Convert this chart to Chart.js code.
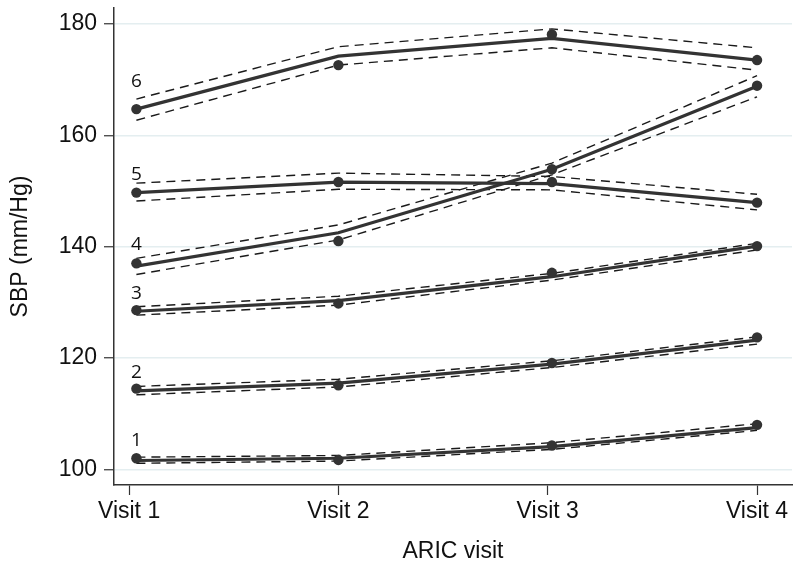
<!DOCTYPE html>
<html>
<head>
<meta charset="utf-8">
<script src="https://cdn.jsdelivr.net/npm/chart.js@4.4.1/dist/chart.umd.min.js"></script>
<style>
  body { margin: 0; background: #fff; }
</style>
</head>
<body>
<canvas id="myChart" width="800" height="568"></canvas>
<script>
'use strict';

var visits = ['Visit 1', 'Visit 2', 'Visit 3', 'Visit 4'];
var visitX = [0.035, 1, 2.02, 3];
var yTicks = [100, 120, 140, 160, 180];
var groups = ['1', '2', '3', '4', '5', '6'];
var labelY = [105.2, 117.3, 131.5, 140.3, 153.0, 169.6];

// observed group means
var observed = [
  [102.0, 101.7, 104.3, 108.0],
  [114.5, 115.1, 119.1, 123.7],
  [128.6, 129.8, 135.3, 140.1],
  [137.0, 141.0, 153.9, 168.9],
  [149.7, 151.6, 151.6, 147.9],
  [164.7, 172.6, 178.1, 173.5]
];
// fitted trajectories
var fitted = [
  [101.6, 102.0, 104.1, 107.5],
  [114.1, 115.5, 118.9, 123.2],
  [128.4, 130.3, 134.6, 140.1],
  [136.5, 142.5, 153.9, 168.8],
  [149.7, 151.6, 151.3, 147.9],
  [164.7, 174.2, 177.4, 173.5]
];
var upperCI = [
  [102.2, 102.5, 104.8, 108.2],
  [114.9, 116.2, 119.5, 123.8],
  [129.2, 131.1, 135.2, 140.6],
  [137.9, 143.9, 155.0, 170.7],
  [151.4, 153.2, 152.6, 149.4],
  [166.5, 175.9, 179.1, 175.7]
];
var lowerCI = [
  [101.1, 101.5, 103.6, 107.0],
  [113.4, 114.8, 118.3, 122.5],
  [127.7, 129.5, 134.0, 139.4],
  [135.0, 141.2, 152.9, 166.9],
  [148.2, 150.3, 150.2, 146.6],
  [162.7, 172.6, 175.7, 171.7]
];

var toPoints = function (vals) {
  return vals.map(function (v, i) { return { x: visitX[i], y: v }; });
};

var datasets = [];
groups.forEach(function (g, k) {
  [upperCI[k], lowerCI[k]].forEach(function (band) {
    datasets.push({
      data: toPoints(band),
      borderColor: '#1a1a1a',
      borderWidth: 1.4,
      borderDash: [9, 6],
      pointRadius: 0,
      showLine: true,
      tension: 0,
      order: 2
    });
  });
  datasets.push({
    data: toPoints(fitted[k]),
    borderColor: '#333',
    borderWidth: 3.2,
    pointRadius: 0,
    showLine: true,
    tension: 0,
    order: 1
  });
  datasets.push({
    data: toPoints(observed[k]),
    showLine: false,
    pointRadius: 5.2,
    pointBackgroundColor: '#333',
    pointBorderColor: '#333',
    pointBorderWidth: 0,
    order: 0
  });
});

// group numbers next to the first visit
var groupLabels = {
  id: 'groupLabels',
  afterDatasetsDraw: function (chart) {
    var ctx = chart.ctx;
    var xs = chart.scales.x, ys = chart.scales.y;
    ctx.save();
    ctx.font = '19px "Open Sans"';
    ctx.fillStyle = '#111';
    ctx.textAlign = 'center';
    ctx.textBaseline = 'middle';
    groups.forEach(function (g, k) {
      ctx.fillText(g, xs.getPixelForValue(visitX[0]), ys.getPixelForValue(labelY[k]));
    });
    ctx.restore();
  }
};

var tickFont = { family: '"Liberation Sans", Arial, sans-serif', size: 23 };

var ctx = document.getElementById('myChart');
var chart = new Chart(ctx, {
  type: 'scatter',
  data: { datasets: datasets },
  options: {
    responsive: false,
    animation: false,
    layout: { padding: { top: 8, right: 8, left: 0, bottom: 0 } },
    plugins: { legend: { display: false }, tooltip: { enabled: false } },
    scales: {
      x: {
        type: 'linear',
        min: -0.072,
        max: 3.167,
        afterFit: function (s) {
          s.height = 83;
          s.paddingLeft = 0;
          s.paddingRight = 0;
        },
        afterBuildTicks: function (s) {
          s.ticks = visits.map(function (v, i) { return { value: i }; });
        },
        ticks: {
          color: '#111',
          font: tickFont,
          padding: 3,
          maxRotation: 0,
          callback: function (v) { return visits[v]; }
        },
        grid: { drawOnChartArea: false, tickLength: 10, tickColor: '#333', tickWidth: 1.2 },
        border: { color: '#333', width: 1.5 },
        title: {
          display: true,
          text: 'ARIC visit',
          color: '#111',
          font: tickFont,
          padding: { top: 0, bottom: 3 }
        }
      },
      y: {
        min: 97.2,
        max: 182.85,
        afterFit: function (s) {
          s.width = 114;
          s.paddingTop = 0;
          s.paddingBottom = 0;
        },
        afterBuildTicks: function (s) {
          s.ticks = yTicks.map(function (v) { return { value: v }; });
        },
        ticks: { color: '#111', font: tickFont, padding: 7 },
        grid: { color: '#e4eef0', lineWidth: 1.5, tickLength: 10, tickColor: '#333', tickWidth: 1.2 },
        border: { color: '#333', width: 1.5 },
        title: {
          display: true,
          text: 'SBP (mm/Hg)',
          color: '#111',
          font: tickFont,
          padding: { top: 7, bottom: 0 }
        }
      }
    }
  },
  plugins: [groupLabels]
});
</script>
</body>
</html>
